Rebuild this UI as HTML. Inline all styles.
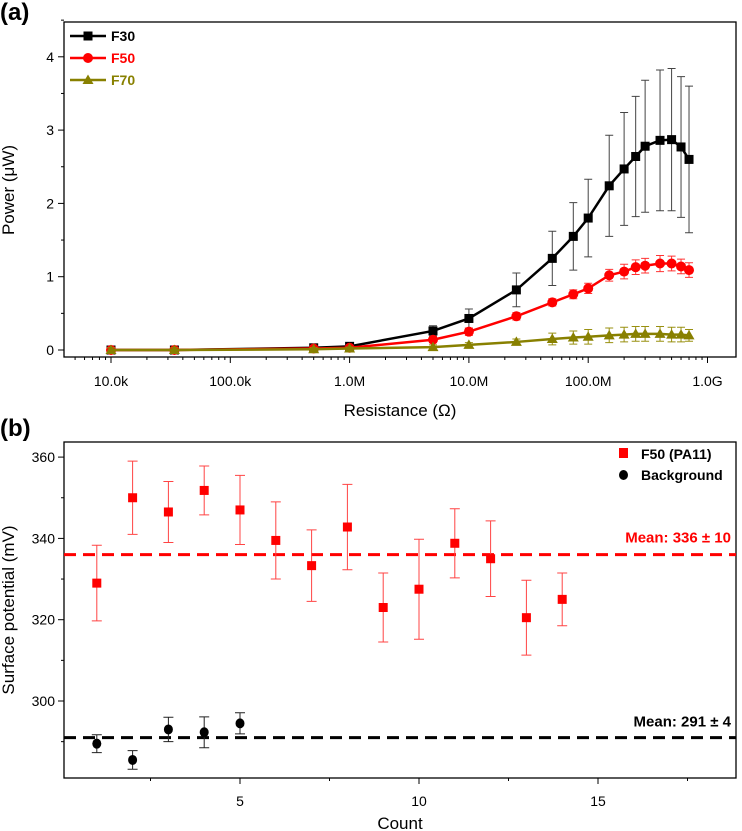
<!DOCTYPE html>
<html><head><meta charset="utf-8"><style>
body{margin:0;background:#fff}
svg{display:block;font-family:"Liberation Sans",sans-serif}
</style></head><body>
<svg id="s" width="742" height="831" viewBox="0 0 742 831" xmlns="http://www.w3.org/2000/svg">
<text x="0" y="20" font-size="24" font-weight="bold">(a)</text>
<text x="0" y="436" font-size="24" font-weight="bold">(b)</text>
<g id="ga"></g>
<g id="gb"></g>
</svg>
<script>
const resist=[1e4,3.4e4,5e5,1e6,5e6,1e7,2.5e7,5e7,7.5e7,1e8,1.5e8,2e8,2.5e8,3e8,4e8,5e8,6e8,7e8];
const f30=[0,0,0.03,0.05,0.26,0.43,0.82,1.25,1.55,1.8,2.24,2.47,2.64,2.78,2.86,2.87,2.77,2.6];
const f30err=[0.02,0.02,0.02,0.03,0.07,0.13,0.23,0.37,0.46,0.53,0.69,0.77,0.82,0.9,0.96,0.97,0.96,1.0];
const f50=[0,0,0.02,0.03,0.14,0.25,0.46,0.65,0.76,0.84,1.02,1.07,1.13,1.15,1.18,1.18,1.14,1.09];
const f50err=[0.02,0.02,0.02,0.02,0.04,0.05,0.05,0.05,0.06,0.07,0.08,0.1,0.1,0.1,0.11,0.1,0.1,0.1];
const f70=[0,0,0.01,0.02,0.04,0.07,0.11,0.15,0.17,0.18,0.2,0.21,0.22,0.22,0.22,0.21,0.21,0.2];
const f70err=[0.03,0.03,0.02,0.02,0.03,0.03,0.04,0.08,0.09,0.1,0.1,0.1,0.1,0.1,0.1,0.1,0.1,0.08];
const xTickLabels=["10.0k","100.0k","1.0M","10.0M","100.0M","1.0G"];
const yTicksA=[0,1,2,3,4];
const countB=[1,2,3,4,5,6,7,8,9,10,11,12,13,14];
const pa11=[329,350,346.5,351.8,347,339.5,333.3,342.8,323,327.5,338.8,335,320.5,325];
const pa11err=[9.3,9,7.5,6,8.5,9.5,8.8,10.5,8.5,12.3,8.5,9.3,9.2,6.5];
const bgCount=[1,2,3,4,5];
const bg=[289.5,285.5,293,292.3,294.5];
const bgErr=[2.2,2.3,3,3.8,2.6];
const means=[336,291];
const yTicksB=[300,320,340,360];
const xTicksB=[5,10,15];

const NS="http://www.w3.org/2000/svg";
function mk(p,t,a){const e=document.createElementNS(NS,t);for(const k in a)e.setAttribute(k,a[k]);p.appendChild(e);return e;}
// ---- Panel A ----
const ga=document.getElementById('ga');
const AL=64,AR=736,AT=22,AB=357;
const xa=v=>111+(Math.log10(v)-4)*119.3;
const ya=v=>350-v*73.3;
let r=mk(ga,'rect',{x:AL,y:AT,width:AR-AL,height:AB-AT,fill:'none',stroke:'#000','stroke-width':1.3});


for(let d=3;d<=9;d++){for(let m=1;m<10;m++){const x=xa(m*Math.pow(10,d));if(x<AL||x>AR)continue;
 const l=mk(ga,'line',{x1:x,x2:x,y1:AB,y2:AB+(m==1?6:3),stroke:'#000','stroke-width':1});
 
 }}
xTickLabels.forEach((t,i)=>{const e=mk(ga,'text',{x:xa(Math.pow(10,4+i)),y:386,'font-size':14,'text-anchor':'middle'});e.textContent=t;
 
 });
for(let v=0;v<=4.5;v+=0.5){const l=mk(ga,'line',{x1:AL,x2:AL-(v%1==0?6:3),y1:ya(v),y2:ya(v),stroke:'#000'});
 
 }
yTicksA.forEach(v=>{const e=mk(ga,'text',{x:AL-10,y:ya(v)+5,'font-size':14,'text-anchor':'end'});e.textContent=v;
 
 });
let t=mk(ga,'text',{x:400,y:416,'font-size':17,'text-anchor':'middle'});t.textContent='Resistance (Ω)';


t=mk(ga,'text',{x:0,y:0,'font-size':17,'text-anchor':'middle',transform:'translate(14,190) rotate(-90)'});t.textContent='Power (μW)';


function series(vals,errs,col,ecol,shape,name){
 const g=mk(ga,'g',{});
 
 
 vals.forEach((v,i)=>{const x=xa(resist[i]),y1=ya(v+errs[i]),y2=ya(v-errs[i]);
  mk(g,'path',{d:`M${x},${y1}V${y2}M${x-4},${y1}h8M${x-4},${y2}h8`,stroke:ecol,'stroke-width':1,fill:'none'});});
 mk(g,'polyline',{points:vals.map((v,i)=>xa(resist[i])+','+ya(v)).join(' '),fill:'none',stroke:col,'stroke-width':2.5});
 vals.forEach((v,i)=>{const x=xa(resist[i]),y=ya(v);let m;
  if(shape=='s')m=mk(g,'rect',{x:x-4.5,y:y-4.5,width:9,height:9,fill:col});
  else if(shape=='c')m=mk(g,'circle',{cx:x,cy:y,r:5,fill:col});
  else m=mk(g,'path',{d:`M${x},${y-5.5}L${x+5.5},${y+4}L${x-5.5},${y+4}Z`,fill:col});
  
  });
}
series(f30,f30err,'#000','#444','s','f30');
series(f50,f50err,'#f00','#f33','c','f50');
series(f70,f70err,'#888000','#999010','t','f70');
[['F30','#000','s'],['F50','#f00','c'],['F70','#888000','t']].forEach((L,i)=>{const y=36+i*22;
 const g=mk(ga,'g',{});
 
 
 mk(g,'line',{x1:70,x2:106,y1:y,y2:y,stroke:L[1],'stroke-width':2.5});
 if(L[2]=='s')mk(g,'rect',{x:83.5,y:y-4.5,width:9,height:9,fill:L[1]});
 else if(L[2]=='c')mk(g,'circle',{cx:88,cy:y,r:5,fill:L[1]});
 else mk(g,'path',{d:`M88,${y-5.5}L93.5,${y+4}L82.5,${y+4}Z`,fill:L[1]});
 const e=mk(g,'text',{x:111,y:y+5,'font-size':14,'font-weight':'bold',fill:L[1]});e.textContent=L[0];});
// ---- Panel B ----
const gb=document.getElementById('gb');
const BL=64,BR=736,BT=442,BB=778;
const xb=v=>240+(v-5)*35.8;
const yb=v=>701-(v-300)*4.065;
r=mk(gb,'rect',{x:BL,y:BT,width:BR-BL,height:BB-BT,fill:'none',stroke:'#000','stroke-width':1.3});


for(let v=2.5;v<19;v+=2.5){const l=mk(gb,'line',{x1:xb(v),x2:xb(v),y1:BB,y2:BB+(v%5==0?6:3),stroke:'#000'});
 
 }
xTicksB.forEach(v=>{const e=mk(gb,'text',{x:xb(v),y:806,'font-size':14,'text-anchor':'middle'});e.textContent=v;
 
 });
for(let v=290;v<=360;v+=10){const l=mk(gb,'line',{x1:BL,x2:BL-(v%20==0?6:3),y1:yb(v),y2:yb(v),stroke:'#000'});
 
 }
yTicksB.forEach(v=>{const e=mk(gb,'text',{x:BL-9,y:yb(v)+5,'font-size':14,'text-anchor':'end'});e.textContent=v;
 
 });
t=mk(gb,'text',{x:400,y:829,'font-size':17,'text-anchor':'middle'});t.textContent='Count';


t=mk(gb,'text',{x:0,y:0,'font-size':17,'text-anchor':'middle',transform:'translate(14,610) rotate(-90)'});t.textContent='Surface potential (mV)';


[['#f00',0],['#000',1]].forEach(([c,i])=>{const l=mk(gb,'line',{x1:BL,x2:BR,y1:yb(means[i]),y2:yb(means[i]),stroke:c,'stroke-width':3,'stroke-dasharray':'12 7'});
 
 });
t=mk(gb,'text',{x:731,y:yb(means[0])-12,'font-size':15,'font-weight':'bold','text-anchor':'end',fill:'#f00'});t.textContent='Mean: '+means[0]+' ± 10';


t=mk(gb,'text',{x:731,y:yb(means[1])-11,'font-size':15,'font-weight':'bold','text-anchor':'end'});t.textContent='Mean: '+means[1]+' ± 4';


pa11.forEach((v,i)=>{const x=xb(countB[i]),y1=yb(v+pa11err[i]),y2=yb(v-pa11err[i]);
 mk(gb,'path',{d:`M${x},${y1}V${y2}M${x-5},${y1}h10M${x-5},${y2}h10`,stroke:'#f44','stroke-width':1,fill:'none'});
 const m=mk(gb,'rect',{x:x-4.5,y:yb(v)-4.5,width:9,height:9,fill:'#f00'});
 
 });
bg.forEach((v,i)=>{const x=xb(bgCount[i]),y1=yb(v+bgErr[i]),y2=yb(v-bgErr[i]);
 mk(gb,'path',{d:`M${x},${y1}V${y2}M${x-5},${y1}h10M${x-5},${y2}h10`,stroke:'#222','stroke-width':1,fill:'none'});
 const m=mk(gb,'ellipse',{cx:x,cy:yb(v),rx:4.5,ry:5,fill:'#000'});
 
 });
let lg=mk(gb,'g',{});


mk(lg,'rect',{x:619,y:448,width:9,height:10,fill:'#f00'});
t=mk(lg,'text',{x:641,y:459,'font-size':14,'font-weight':'bold'});t.textContent='F50 (PA11)';
lg=mk(gb,'g',{});


mk(lg,'ellipse',{cx:623.5,cy:475,rx:4.5,ry:5,fill:'#000'});
t=mk(lg,'text',{x:641,y:480,'font-size':14,'font-weight':'bold'});t.textContent='Background';
</script>
</body></html>
